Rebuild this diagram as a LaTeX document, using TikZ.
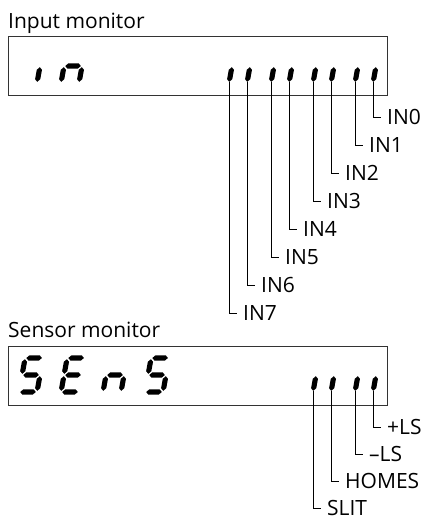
\documentclass[tikz,border=0pt]{standalone}
\usepackage{fontspec}
\setmainfont{Open Sans}

% one segment of the display, horizontal or vertical
\newcommand\hseg[3]{\fill (#1,#3) -- (#1+2.6,#3+2.6) -- (#2-2.6,#3+2.6) -- (#2,#3) -- (#2-2.6,#3-2.6) -- (#1+2.6,#3-2.6) -- cycle;}
\newcommand\vseg[3]{\fill (#1,#2) -- (#1+2.6,#2+2.6) -- (#1+2.6,#3-2.6) -- (#1,#3) -- (#1-2.6,#3-2.6) -- (#1-2.6,#2+2.6) -- cycle;}
\newcommand\lcdA{\hseg{1.2}{16.8}{34}}
\newcommand\lcdB{\vseg{18}{18.2}{32.8}}
\newcommand\lcdC{\vseg{18}{1.2}{15.8}}
\newcommand\lcdD{\hseg{1.2}{16.8}{0}}
\newcommand\lcdE{\vseg{0}{1.2}{15.8}}
\newcommand\lcdF{\vseg{0}{18.2}{32.8}}
\newcommand\lcdG{\hseg{1.2}{16.8}{17}}
\newcommand\lcddigit[3]{%
  \begin{scope}[shift={(#1,#2)}, y=1pt, xslant=0.18]
    \foreach \s in {#3} {\csname lcd\s\endcsname}
  \end{scope}}

\tikzset{
  panel/.style={draw=black!80, line width=0.9pt},
  title/.style={anchor=base west, inner sep=0pt, font=\fontsize{21}{25}\selectfont},
  lbl/.style={anchor=west, inner xsep=6pt, inner ysep=0pt, font=\fontsize{21}{25}\selectfont},
  lead/.style={line width=0.9pt}
}

\begin{document}
\begin{tikzpicture}[x=1pt, y=-1pt]
    \useasboundingbox (0,0) rectangle (425,520);

    % input monitor
    \node[title] (intitle) at (8,28) {Input monitor};
    \draw[panel] (8,36) rectangle (387,95);
    \lcddigit{19}{83}{C}
    \lcddigit{61}{83}{C,E,G}
    \lcddigit{229}{83}{C,E}
    \lcddigit{271}{83}{C,E}
    \lcddigit{313}{83}{C,E}
    \lcddigit{355}{83}{C,E}

    \coordinate (s0) at (373,82);
    \coordinate (s1) at (355,82);
    \coordinate (s2) at (331,82);
    \coordinate (s3) at (313,82);
    \coordinate (s4) at (289,82);
    \coordinate (s5) at (271,82);
    \coordinate (s6) at (247,82);
    \coordinate (s7) at (229,82);

    \node[lbl] (in0) at (381,117) {IN0};
    \node[lbl] (in1) at (363,145) {IN1};
    \node[lbl] (in2) at (339,173) {IN2};
    \node[lbl] (in3) at (321,201) {IN3};
    \node[lbl] (in4) at (297,229) {IN4};
    \node[lbl] (in5) at (279,257) {IN5};
    \node[lbl] (in6) at (255,285) {IN6};
    \node[lbl] (in7) at (237,313) {IN7};

    \draw[lead] (s0) |- (in0.west);
    \draw[lead] (s1) |- (in1.west);
    \draw[lead] (s2) |- (in2.west);
    \draw[lead] (s3) |- (in3.west);
    \draw[lead] (s4) |- (in4.west);
    \draw[lead] (s5) |- (in5.west);
    \draw[lead] (s6) |- (in6.west);
    \draw[lead] (s7) |- (in7.west);

    % sensor monitor
    \node[title] (sentitle) at (8,337) {Sensor monitor};
    \draw[panel] (8,346) rectangle (387,405);
    \lcddigit{19}{392}{A,F,G,C,D}
    \lcddigit{61}{392}{A,F,G,E,D}
    \lcddigit{103}{392}{C,E,G}
    \lcddigit{145}{392}{A,F,G,C,D}
    \lcddigit{313}{392}{C,E}
    \lcddigit{355}{392}{C,E}

    \coordinate (t0) at (373,391);
    \coordinate (t1) at (355,391);
    \coordinate (t2) at (331,391);
    \coordinate (t3) at (313,391);

    \node[lbl] (pls) at (381,427) {+LS};
    \node[lbl] (mls) at (363,454) {–LS};
    \node[lbl] (homes) at (339,481) {HOMES};
    \node[lbl] (slit) at (321,508) {SLIT};

    \draw[lead] (t0) |- (pls.west);
    \draw[lead] (t1) |- (mls.west);
    \draw[lead] (t2) |- (homes.west);
    \draw[lead] (t3) |- (slit.west);
\end{tikzpicture}
\end{document}
